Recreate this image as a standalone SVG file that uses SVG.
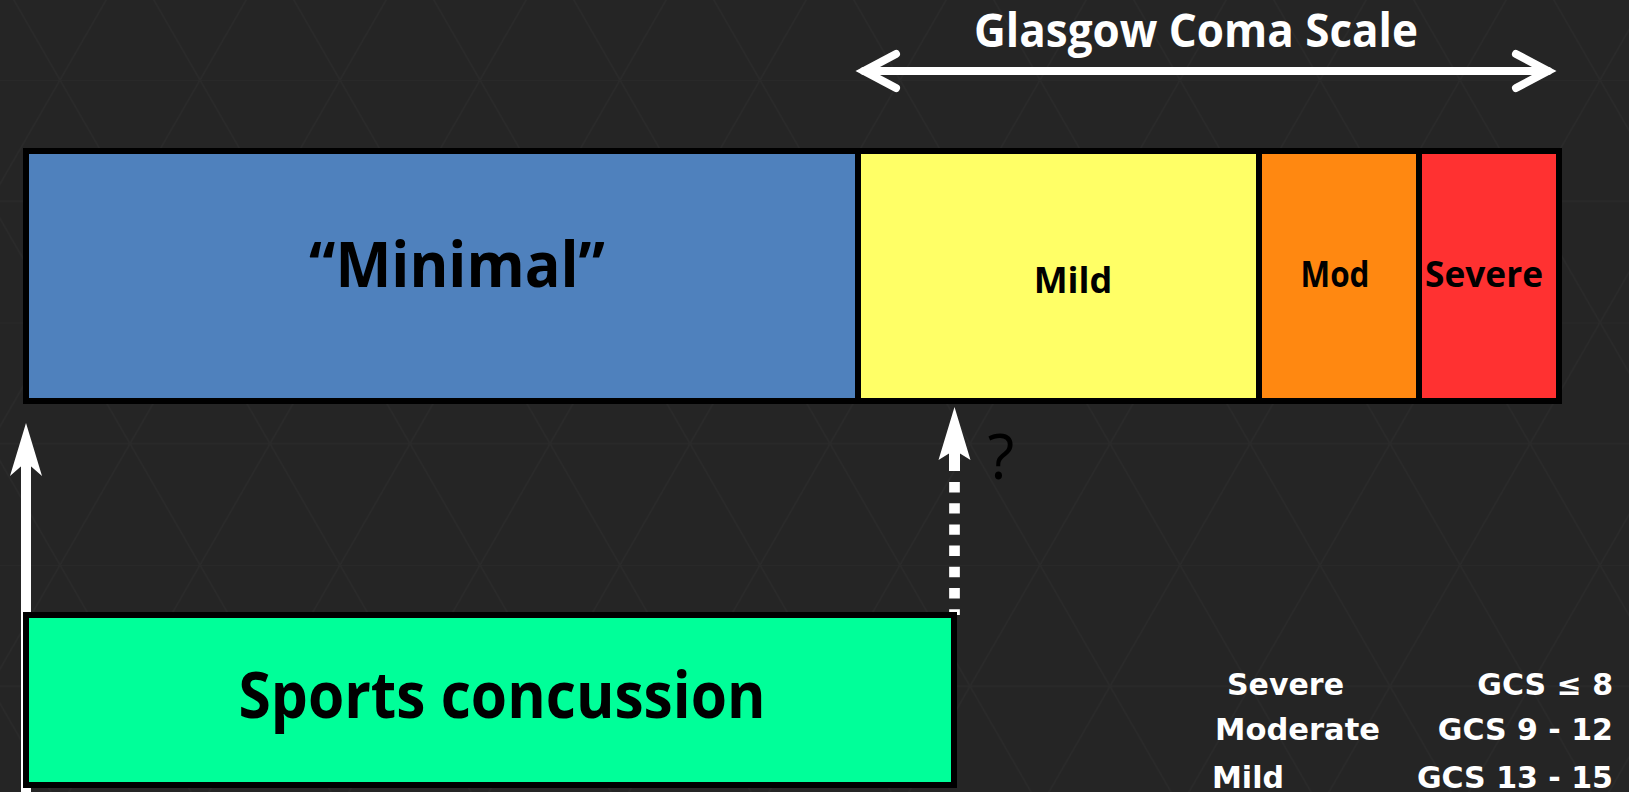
<svg xmlns="http://www.w3.org/2000/svg" width="1629" height="792" viewBox="0 0 1629 792">
<style>
.seg{stroke:#000;stroke-width:6}
.lbl{font-family:"Open Sans","DejaVu Sans",sans-serif;font-weight:700;fill:#000;text-anchor:middle}
.tbl{font-family:"DejaVu Sans",sans-serif;font-weight:700;font-size:30px;fill:#fff}
.end{text-anchor:end}
</style>
<defs>
<pattern id="tri" patternUnits="userSpaceOnUse" x="60" y="80" width="140" height="242.49">
<path d="M0 0L140 242.49M140 0L0 242.49M0 0H140M0 121.24H140" stroke="#2a2a2a" stroke-width="1.5" fill="none"/>
</pattern>
</defs>
<rect width="1629" height="792" fill="#252525"/>
<rect width="1629" height="792" fill="url(#tri)"/>

<g id="connectors">
<g id="gcs-range" stroke="#fff" stroke-width="8" stroke-linecap="round" fill="none">
<path d="M864 71H1548"/>
<path d="M896 54L864 71L896 88"/>
<path d="M1516 54L1548 71L1516 88"/>
</g>
<g id="arrow-minimal">
<path d="M26 462V792" stroke="#fff" stroke-width="10"/>
<polygon points="26,423 42,476 26,462 10,476" fill="#fff"/>
</g>
<g id="arrow-mild">
<path d="M954.5 407L970.5 460L960 453.4V471H949V453.4L938.5 460Z" fill="#fff"/>
<path d="M954.5 482V615" stroke="#fff" stroke-width="10.7" stroke-dasharray="10.4 10.8"/>
</g>
</g>

<g id="title">
<text x="1196" y="47" font-family="Open Sans, DejaVu Sans, sans-serif" font-weight="700" font-size="46" fill="#fff" text-anchor="middle" textLength="444" lengthAdjust="spacingAndGlyphs">Glasgow Coma Scale</text>
</g>

<g id="minimal">
<rect class="seg" x="26" y="151" width="832" height="250" fill="#4F81BD"/>
<text class="lbl" x="457" y="287" font-size="62" textLength="296" lengthAdjust="spacingAndGlyphs">“Minimal”</text>
</g>
<g id="mild">
<rect class="seg" x="858" y="151" width="401" height="250" fill="#FFFF66"/>
<text class="lbl" x="1073" y="293" font-size="36">Mild</text>
</g>
<g id="mod">
<rect class="seg" x="1259" y="151" width="160" height="250" fill="#FF8811"/>
<text class="lbl" x="1335" y="287" font-size="36" textLength="69" lengthAdjust="spacingAndGlyphs">Mod</text>
</g>
<g id="severe">
<rect class="seg" x="1419" y="151" width="140" height="250" fill="#FF3131"/>
<text class="lbl" x="1484" y="287" font-size="36" textLength="118" lengthAdjust="spacingAndGlyphs">Severe</text>
</g>

<g id="question">
<text x="1001" y="479" font-family="Open Sans, DejaVu Sans, sans-serif" font-size="62" fill="#000" text-anchor="middle">?</text>
</g>

<g id="sports">
<rect class="seg" x="26" y="615" width="928" height="170" fill="#00FF99"/>
<text class="lbl" x="502" y="718" font-size="65" textLength="527" lengthAdjust="spacingAndGlyphs">Sports concussion</text>
</g>

<g id="legend">
<text class="tbl" x="1227" y="695">Severe</text>
<text class="tbl end" x="1613" y="695">GCS ≤ 8</text>
<text class="tbl" x="1215" y="740" textLength="165" lengthAdjust="spacingAndGlyphs">Moderate</text>
<text class="tbl end" x="1613" y="740">GCS 9 - 12</text>
<text class="tbl" x="1212" y="788">Mild</text>
<text class="tbl end" x="1613" y="788">GCS 13 - 15</text>
</g>
</svg>
